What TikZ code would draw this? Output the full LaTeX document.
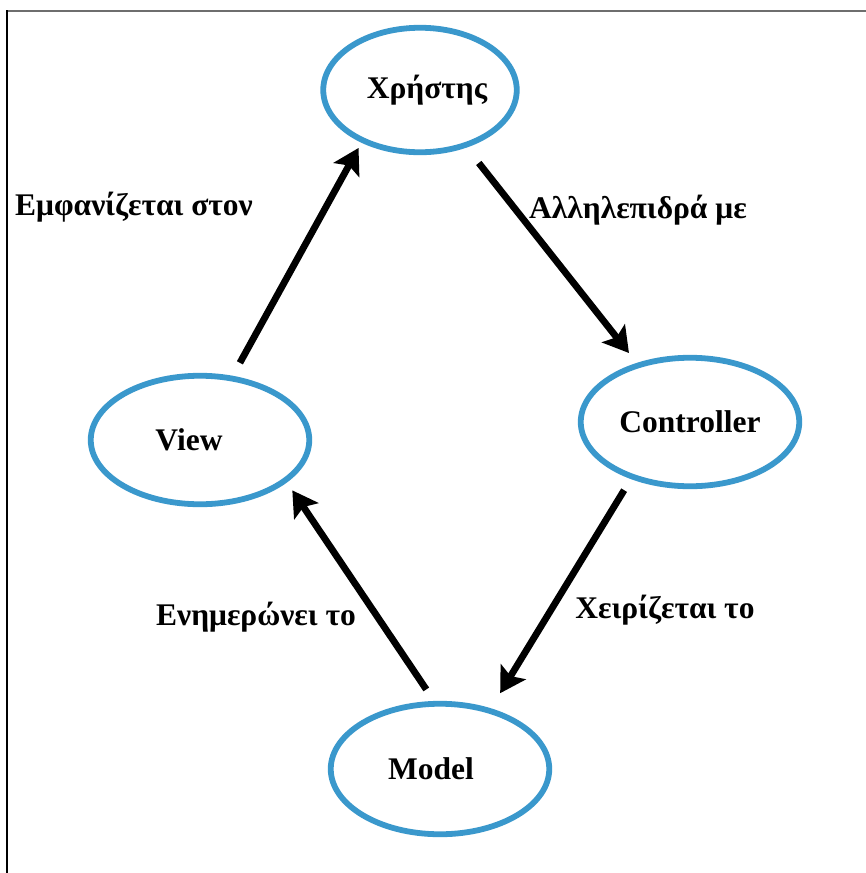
\documentclass[tikz,border=0pt]{standalone}
\usepackage{fontspec}
\setmainfont{Liberation Serif}
\usetikzlibrary{arrows.meta,shapes.geometric}
\definecolor{ellblue}{RGB}{58,152,204}
\definecolor{framegray}{RGB}{110,110,110}
\begin{document}
\begin{tikzpicture}[x=1pt,y=-1pt,
  ell/.style={ellipse, draw=ellblue, line width=5.8pt, fill=white, inner sep=0pt,
    font=\fontsize{31.5}{36}\selectfont\bfseries},
  lbl/.style={font=\fontsize{31.5}{36}\selectfont\bfseries, inner sep=0pt},
  arr/.style={line width=6.8pt, -{Stealth[length=25pt,width=29pt,inset=5pt]}}]
\useasboundingbox (0,0) rectangle (866,873);
\fill[white] (0,0) rectangle (866,873);
% frame
\draw[framegray, line width=2pt] (7,11) -- (866,11);
\draw[black, line width=1.5pt] (7,10) -- (7,873);
% nodes
\node[ell, minimum width=193.5pt, minimum height=124.5pt] (user) at (420,90) {\hspace{14pt}Χρήστης};
\node[ell, minimum width=218.5pt, minimum height=128.5pt] (ctrl) at (690,422) {Controller};
\node[ell, minimum width=218.5pt, minimum height=128.5pt] (view) at (200,440) {View\rule{22pt}{0pt}};
\node[ell, minimum width=218.5pt, minimum height=130.5pt] (model) at (440,769) {Model\rule{18pt}{0pt}};
% labels
\node[lbl] (l1) at (134,207) {Εμφανίζεται στον};
\node[lbl] (l2) at (638,210) {Αλληλεπιδρά με};
\node[lbl] (l3) at (665,610) {Χειρίζεται το};
\node[lbl] (l4) at (256,617) {Ενημερώνει το};
% arrows
\draw[arr, shorten <=14.8pt, shorten >=6pt] (view.63.7) -- (user.222.5);
\draw[arr, shorten <=19.6pt, shorten >=12.6pt] (user.309.6) -- (ctrl.132.3);
\draw[arr, shorten <=13pt, shorten >=17.7pt] (ctrl.224.1) -- (model.50.2);
\draw[arr, shorten <=13.9pt, shorten >=9.6pt] (model.95.1) -- (view.334.2);
\end{tikzpicture}
\end{document}
